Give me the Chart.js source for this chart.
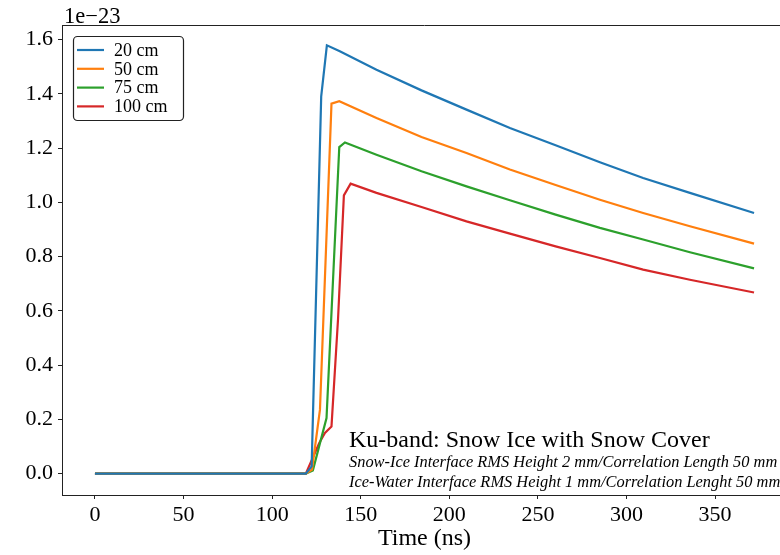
<!DOCTYPE html>
<html>

<head>
  <title>Ku-band: Snow Ice with Snow Cover</title>
  <script src="https://cdn.jsdelivr.net/npm/chart.js"></script>
  <style>
    body {
      margin: 0;
      background-color: #fff;
      overflow: hidden;
    }

    #chartContainer {
      width: 787px;
      height: 555px;
    }
  </style>
</head>

<body>
  <div id="chartContainer">
    <canvas id="myChart" width="787" height="555"></canvas>
  </div>

  <script>
    // values are in units of 1e-23 (shown as the offset text above the y axis)
    const seriesLabels = ['20 cm', '50 cm', '75 cm', '100 cm'];
    const seriesColors = ['#1f77b4', '#ff7f0e', '#2ca02c', '#d62728'];

    const time20 = [0, 119, 122.3, 127.7, 130.9, 138.2, 158.9, 184.3, 209.7, 234.2, 260, 285, 309.4, 335.8, 372];
    const val20 = [0, 0, 0.027, 1.391, 1.579, 1.557, 1.489, 1.413, 1.342, 1.274, 1.211, 1.148, 1.090, 1.035, 0.961];

    const time50 = [0, 119, 122.5, 127, 133.5, 137.9, 158.9, 184.3, 209.7, 234.2, 260, 285, 309.4, 335.8, 372];
    const val50 = [0, 0, 0.015, 0.236, 1.364, 1.373, 1.311, 1.241, 1.182, 1.121, 1.064, 1.010, 0.961, 0.912, 0.848];

    const time75 = [0, 119, 123, 130.7, 137.9, 141.1, 158.9, 184.3, 209.7, 234.2, 260, 285, 309.4, 335.8, 372];
    const val75 = [0, 0, 0.012, 0.205, 1.204, 1.221, 1.176, 1.115, 1.059, 1.008, 0.955, 0.906, 0.863, 0.816, 0.757];

    const time100 = [0, 119, 126.6, 129.8, 133.5, 137.2, 140.5, 144.3, 158.9, 184.3, 209.7, 234.2, 260, 285, 309.4, 335.8, 372];
    const val100 = [0, 0, 0.113, 0.150, 0.174, 0.570, 1.026, 1.069, 1.035, 0.983, 0.930, 0.885, 0.838, 0.795, 0.752, 0.715, 0.668];

    const xTicks = [0, 50, 100, 150, 200, 250, 300, 350];
    const yTicks = [0, 0.2, 0.4, 0.6, 0.8, 1.0, 1.2, 1.4, 1.6];

    const offsetText = '1e\u221223';
    const noteTitle = 'Ku-band: Snow Ice with Snow Cover';
    const noteLines = [
      'Snow-Ice Interface RMS Height 2 mm/Correlation Length 50 mm',
      'Ice-Water Interface RMS Height 1 mm/Correlation Lenght 50 mm'
    ];

    const serif = '"Liberation Serif", "Times New Roman", serif';
    Chart.defaults.font.family = serif;
    Chart.defaults.color = '#000';

    function toPoints(ts, vs) {
      return ts.map((t, i) => ({ x: t, y: vs[i] }));
    }

    const allSeries = [[time20, val20], [time50, val50], [time75, val75], [time100, val100]];

    // top spine, offset text, legend and the annotation lines
    const extrasPlugin = {
      id: 'extras',
      afterDraw(chart) {
        const ctx = chart.ctx;
        const area = chart.chartArea;
        ctx.save();

        ctx.strokeStyle = '#222';
        ctx.lineWidth = 1;
        ctx.beginPath();
        ctx.moveTo(area.left, area.top + 0.5);
        ctx.lineTo(area.right, area.top + 0.5);
        ctx.stroke();

        ctx.fillStyle = '#000';
        ctx.font = '22.5px ' + serif;
        ctx.textAlign = 'left';
        ctx.textBaseline = 'alphabetic';
        ctx.fillText(offsetText, area.left + 2, 22.5);

        // legend
        const lx = 73, ly = 36, lw = 110, lh = 84;
        ctx.beginPath();
        ctx.roundRect(lx + 0.5, ly + 0.5, lw, lh, 4);
        ctx.fillStyle = 'rgba(255,255,255,0.85)';
        ctx.fill();
        ctx.strokeStyle = '#222';
        ctx.lineWidth = 1.2;
        ctx.stroke();
        ctx.font = '18px ' + serif;
        ctx.textBaseline = 'middle';
        chart.data.datasets.forEach((ds, i) => {
          const rowY = 50 + i * 18.8;
          ctx.strokeStyle = ds.borderColor;
          ctx.lineWidth = 2.2;
          ctx.beginPath();
          ctx.moveTo(77, rowY);
          ctx.lineTo(104, rowY);
          ctx.stroke();
          ctx.fillStyle = '#000';
          ctx.fillText(ds.label, 114, rowY + 1);
        });

        // annotation
        ctx.fillStyle = '#000';
        ctx.textBaseline = 'alphabetic';
        ctx.font = '24px ' + serif;
        ctx.fillText(noteTitle, 349, 447);
        ctx.font = 'italic 16.4px ' + serif;
        ctx.fillText(noteLines[0], 349, 466.5);
        ctx.fillText(noteLines[1], 349, 486.5);

        ctx.restore();
      }
    };

    const ctx = document.getElementById('myChart').getContext('2d');
    new Chart(ctx, {
      type: 'line',
      data: {
        datasets: allSeries.map((s, i) => ({
          label: seriesLabels[i],
          data: toPoints(s[0], s[1]),
          borderColor: seriesColors[i],
          backgroundColor: seriesColors[i],
          borderWidth: 2.2,
          pointRadius: 0,
          tension: 0,
          fill: false
        }))
      },
      options: {
        responsive: false,
        animation: false,
        layout: {
          padding: { top: 25, right: 0, left: 0, bottom: 0 }
        },
        scales: {
          x: {
            type: 'linear',
            min: -18.6,
            max: 390.6,
            afterFit: (scale) => { scale.height = 60; },
            afterBuildTicks: (scale) => { scale.ticks = xTicks.map(v => ({ value: v })); },
            grid: {
              drawOnChartArea: false,
              drawTicks: true,
              tickLength: 4,
              tickColor: '#222'
            },
            border: { display: true, color: '#222', width: 1 },
            ticks: {
              font: { size: 22 },
              color: '#000',
              padding: 3,
              maxRotation: 0,
              callback: (v) => String(v)
            },
            title: {
              display: true,
              text: 'Time (ns)',
              font: { size: 24 },
              color: '#000',
              padding: { top: 0, bottom: 2 }
            }
          },
          y: {
            type: 'linear',
            min: -0.0787,
            max: 1.654,
            afterFit: (scale) => { scale.width = 62; },
            afterBuildTicks: (scale) => { scale.ticks = yTicks.map(v => ({ value: v })); },
            grid: {
              drawOnChartArea: false,
              drawTicks: true,
              tickLength: 4,
              tickColor: '#222'
            },
            border: { display: true, color: '#222', width: 1 },
            ticks: {
              font: { size: 22 },
              color: '#000',
              padding: 5,
              callback: (v) => Number(v).toFixed(1)
            }
          }
        },
        plugins: {
          legend: { display: false },
          tooltip: { enabled: false }
        }
      },
      plugins: [extrasPlugin]
    });
  </script>
</body>

</html>
